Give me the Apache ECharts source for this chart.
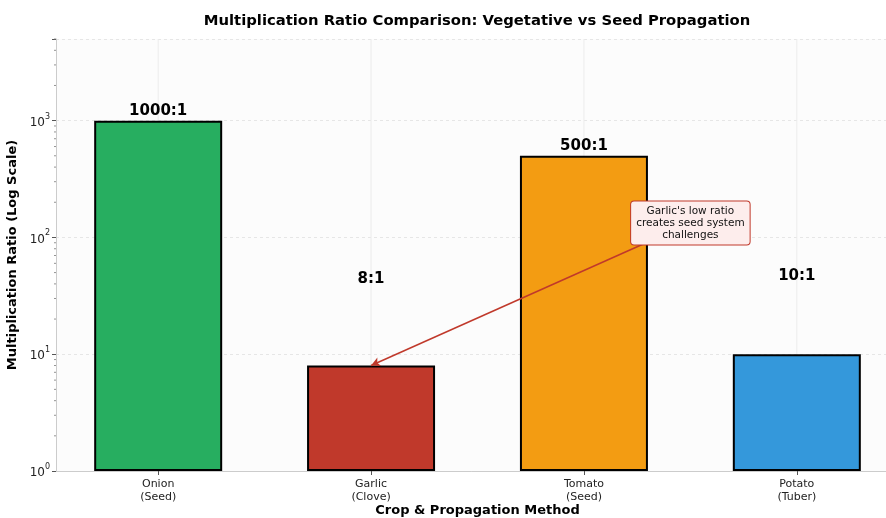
<!DOCTYPE html>
<html>
<head>
<meta charset="utf-8">
<script src="https://cdn.jsdelivr.net/npm/echarts@6/dist/echarts.min.js"></script>
<style>html,body{margin:0;padding:0;background:#fff;}#c{width:886px;height:518px;}</style>
</head>
<body>
<div id="c"></div>
<script>
// ---- data ----
const categories = ['Onion\n(Seed)', 'Garlic\n(Clove)', 'Tomato\n(Seed)', 'Potato\n(Tuber)'];
const ratios = [1000, 8, 500, 10];
const ratioLabels = ['1000:1', '8:1', '500:1', '10:1'];
const labelAt = [1216, 44, 609, 47];
const barColors = ['#27ae60', '#c0392b', '#f39c12', '#3498db'];
const yMinorTicks = [2,3,4,5,6,7,8,9,20,30,40,50,60,70,80,90,200,300,400,500,600,700,800,900,2000,3000,4000,5000];
const annotationText = "Garlic's low ratio\ncreates seed system\nchallenges";
const annotationTarget = [1, 8];
const annotationBox = [2.5, 133];

const catIdx = categories.map((_, i) => i);
const FONT = 'DejaVu Sans';

const chart = echarts.init(document.getElementById('c'), null, {renderer: 'canvas'});
const option = {
  backgroundColor: '#ffffff',
  animation: false,
  textStyle: {fontFamily: FONT},
  title: {
    text: 'Multiplication Ratio Comparison: Vegetative vs Seed Propagation',
    left: 472, top: 9, textAlign: 'center',
    textStyle: {fontFamily: FONT, fontSize: 14.8, fontWeight: 'bold', color: '#000'}
  },
  grid: {left: 56, top: 39, width: 843, height: 432, backgroundColor: '#fcfcfc', show: true, borderWidth: 0, outerBoundsMode: 'none', containLabel: false},
  xAxis: {
    type: 'value', min: -0.48, max: 3.48,
    name: 'Crop & Propagation Method', nameLocation: 'middle', nameGap: 33, nameMoveOverlap: false,
    nameTextStyle: {fontFamily: FONT, fontSize: 13, fontWeight: 'bold', color: '#000', verticalAlign: 'top'},
    axisLine: {show: true, onZero: false, lineStyle: {color: '#cccccc', width: 1}},
    axisTick: {show: true, customValues: catIdx, length: 4, lineStyle: {color: '#555'}},
    axisLabel: {customValues: catIdx, formatter: v => categories[Math.round(v)], fontFamily: FONT, fontSize: 11, color: '#222', lineHeight: 13, margin: 7},
    splitLine: {show: false}
  },
  yAxis: {
    type: 'log', logBase: 10, min: 1, max: 5000,
    name: 'Multiplication Ratio (Log Scale)', nameLocation: 'middle', nameGap: 34,
    nameTextStyle: {fontFamily: FONT, fontSize: 13, fontWeight: 'bold', color: '#000'},
    axisLine: {show: true, onZero: false, lineStyle: {color: '#cccccc', width: 1}},
    axisTick: {show: true, length: 4, lineStyle: {color: '#555'}},
    axisLabel: {
      fontFamily: FONT, fontSize: 12, color: '#222', margin: 6,
      formatter: v => {
        const e = Math.log10(v);
        if (Math.abs(e - Math.round(e)) > 1e-6) return '';
        return '{b|10}{s|' + Math.round(e) + '}';
      },
      rich: {
        b: {fontFamily: FONT, fontSize: 12, color: '#222', verticalAlign: 'bottom', lineHeight: 16},
        s: {fontFamily: FONT, fontSize: 8, color: '#222', verticalAlign: 'top', lineHeight: 16}
      }
    },
    splitLine: {show: true, lineStyle: {color: '#e6e6e6', type: [3, 3], width: 1}}
  },
  series: [
    {
      type: 'custom', name: 'vgrid', z: 1, silent: true,
      data: catIdx.map(i => [i, 1]),
      encode: {x: 0, y: 1},
      renderItem: (params, api) => {
        const p = api.coord([api.value(0), 1]);
        const cs = params.coordSys;
        return {type: 'line', shape: {x1: p[0], y1: cs.y, x2: p[0], y2: cs.y + cs.height}, style: {stroke: '#ececec', lineWidth: 1}};
      }
    },
    {
      type: 'bar', barWidth: 128,
      data: ratios.map((v, i) => ({value: [i, v], itemStyle: {color: barColors[i]}})),
      itemStyle: {borderColor: '#000', borderWidth: 2},
      z: 3
    },
    {
      type: 'custom', name: 'minorTicks', z: 2, silent: true,
      data: yMinorTicks.map(v => [0, v]),
      renderItem: (params, api) => {
        const p = api.coord([0, api.value(1)]);
        const x0 = params.coordSys.x;
        return {type: 'line', shape: {x1: x0 - 2, y1: p[1], x2: x0, y2: p[1]}, style: {stroke: '#777', lineWidth: 0.8}};
      },
      encode: {x: 0, y: 1},
      clip: false
    },
    {
      type: 'scatter', symbolSize: 0, z: 5, silent: true,
      itemStyle: {opacity: 1},
      data: labelAt.map((v, i) => ({value: [i, v], label: {formatter: ratioLabels[i]}})),
      label: {show: true, position: 'inside', fontFamily: FONT, fontSize: 15, fontWeight: 'bold', color: '#000', textBorderWidth: 0}
    },
    {
      type: 'scatter', symbolSize: 0, z: 6, silent: true,
      itemStyle: {opacity: 1},
      data: [{value: annotationBox}],
      label: {
        show: true, position: 'inside', formatter: annotationText,
        fontFamily: FONT, fontSize: 10.5, lineHeight: 12, color: '#111', align: 'center', textBorderWidth: 0,
        backgroundColor: '#fdedec', borderColor: '#c0392b', borderWidth: 1, borderRadius: 3,
        padding: [4, 5, 3, 5]
      },
      markLine: {
        silent: true, symbol: ['none', 'arrow'], symbolSize: [7, 9],
        label: {show: false},
        lineStyle: {color: '#c0392b', width: 1.5, type: 'solid', opacity: 1},
        data: [[{coord: annotationBox}, {coord: annotationTarget}]],
        z: 4
      }
    }
  ]
};
chart.setOption(option);
</script>
</body>
</html>
